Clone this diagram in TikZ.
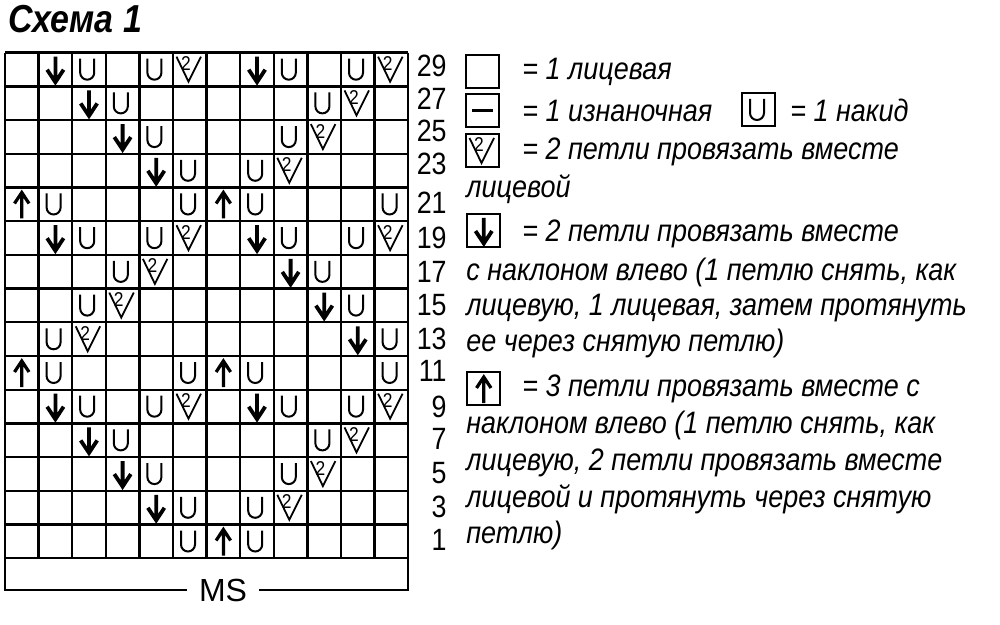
\documentclass[tikz,border=0pt]{standalone}
\usepackage{fontspec}
\setmainfont{Liberation Sans}[FakeStretch=0.87]
\newfontfamily\plainsans{Liberation Sans}
\usetikzlibrary{positioning}

\newcommand{\cw}{33.6}
\newcommand{\ch}{33.7}

\tikzset{
    gridline/.style={line width=1.2pt},
    rownum/.style={font=\fontsize{15.4}{16}\selectfont, anchor=east, inner sep=0pt},
    legtext/.style={font=\fontsize{15.5}{18}\selectfont\itshape, anchor=base west, inner sep=0pt},
    cellbox/.pic={\draw[line width=0.9pt] (0,0) rectangle (33,33);},
    yarnover/.pic={\draw[line width=1pt] (8,6)--(8,20) arc[start angle=180,end angle=0,radius=7]--(22,6);},
    purl/.pic={\draw[line width=1.6pt] (6,16.5)--(27,16.5);},
    ktog/.pic={\draw[line width=0.9pt] (3.5,4)--(15.5,29)--(28,4);
        \node[font=\fontsize{10}{10}\selectfont, inner sep=0pt] (-two) at (13,11) {2};},
    sskdown/.pic={\draw[line width=1.9pt, line join=miter] (16.8,4)--(16.8,28) (8.5,17)--(16.8,29.5)--(25,17);},
    skpup/.pic={\draw[line width=1.6pt, line join=miter] (16.8,31)--(16.8,6) (9.5,16)--(16.8,5)--(24,16);}
}

\begin{document}
\begin{tikzpicture}[x=0.5pt, y=-0.5pt]
    \useasboundingbox (0,0) rectangle (1000,625);

    \node[font=\fontsize{19.5}{20}\selectfont\bfseries\itshape, anchor=base west, inner sep=0pt] (title) at (8,33) {Схема 1};

    % chart grid
    \foreach \i in {0,...,12}
        \draw[gridline] ({5+\i*\cw},52.7)--({5+\i*\cw},558.2);
    \foreach \j in {0,...,15}
        \draw[gridline] (5,{52.7+\j*\ch})--(408.2,{52.7+\j*\ch});

    % symbols: column/row from the top left
    \foreach \c/\r in {3/1,5/1,9/1,11/1,4/2,10/2,5/3,9/3,6/4,8/4,2/5,6/5,8/5,12/5,
                       3/6,5/6,9/6,11/6,4/7,10/7,3/8,11/8,2/9,12/9,2/10,6/10,8/10,12/10,
                       3/11,5/11,9/11,11/11,4/12,10/12,5/13,9/13,6/14,8/14,6/15,8/15}
        \pic at ({5+(\c-1)*\cw},{52.7+(\r-1)*\ch}) {yarnover};
    \foreach \c/\r in {6/1,12/1,11/2,10/3,9/4,6/6,12/6,5/7,4/8,3/9,6/11,12/11,11/12,10/13,9/14}
        \pic at ({5+(\c-1)*\cw},{52.7+(\r-1)*\ch}) {ktog};
    \foreach \c/\r in {2/1,8/1,3/2,4/3,5/4,2/6,8/6,9/7,10/8,11/9,2/11,8/11,3/12,4/13,5/14}
        \pic at ({5+(\c-1)*\cw},{52.7+(\r-1)*\ch}) {sskdown};
    \foreach \c/\r in {1/5,7/5,1/10,7/10,7/15}
        \pic at ({5+(\c-1)*\cw},{52.7+(\r-1)*\ch}) {skpup};

    % MS band
    \node[font=\fontsize{16}{16}\selectfont\plainsans, inner xsep=6pt, inner ysep=0pt] (ms) at (223,590) {MS};
    \draw[gridline] (5,558.2)--(5,590)--(ms.west);
    \draw[gridline] (408.2,558.2)--(408.2,590)--(ms.east);

    % row numbers
    \foreach \n/\y in {29/66,27/99,25/131,23/164,21/203,19/238,17/272,15/305,
                       13/339,11/371,9/407,7/439,5/473,3/507,1/540}
        \node[rownum] (row\n) at (447,\y) {\n};

    % legend
    \pic at (466,55) {cellbox};
    \pic at (466,94) {cellbox};
    \pic at (466,94) {purl};
    \pic at (742,93) {cellbox};
    \pic at (742,93) {yarnover};
    \pic at (466,134) {cellbox};
    \pic at (466,134) {ktog};
    \pic at (467,214) {cellbox};
    \pic at (467,214) {sskdown};
    \pic at (467,372) {cellbox};
    \pic at (467,372) {skpup};

    \node[legtext] (knit) at (522,80) {= 1 лицевая};
    \node[legtext] (purltext) at (522,122) {= 1 изнаночная};
    \node[legtext] (yo) at (790,122) {= 1 накид};
    \node[legtext] (tog1) at (522,160) {= 2 петли провязать вместе};
    \node[legtext] (tog2) at (466,198) {лицевой};
    \node[legtext] (ssk1) at (522,242) {= 2 петли провязать вместе};
    \node[legtext] (ssk2) at (466,281) {с наклоном влево (1 петлю снять, как};
    \node[legtext] (ssk3) at (466,316) {лицевую, 1 лицевая, затем протянуть};
    \node[legtext] (ssk4) at (466,351) {ее через снятую петлю)};
    \node[legtext] (sk1) at (522,396) {= 3 петли провязать вместе с};
    \node[legtext] (sk2) at (466,433) {наклоном влево (1 петлю снять, как};
    \node[legtext] (sk3) at (466,470) {лицевую, 2 петли провязать вместе};
    \node[legtext] (sk4) at (466,507) {лицевой и протянуть через снятую};
    \node[legtext] (sk5) at (466,543) {петлю)};
\end{tikzpicture}
\end{document}
